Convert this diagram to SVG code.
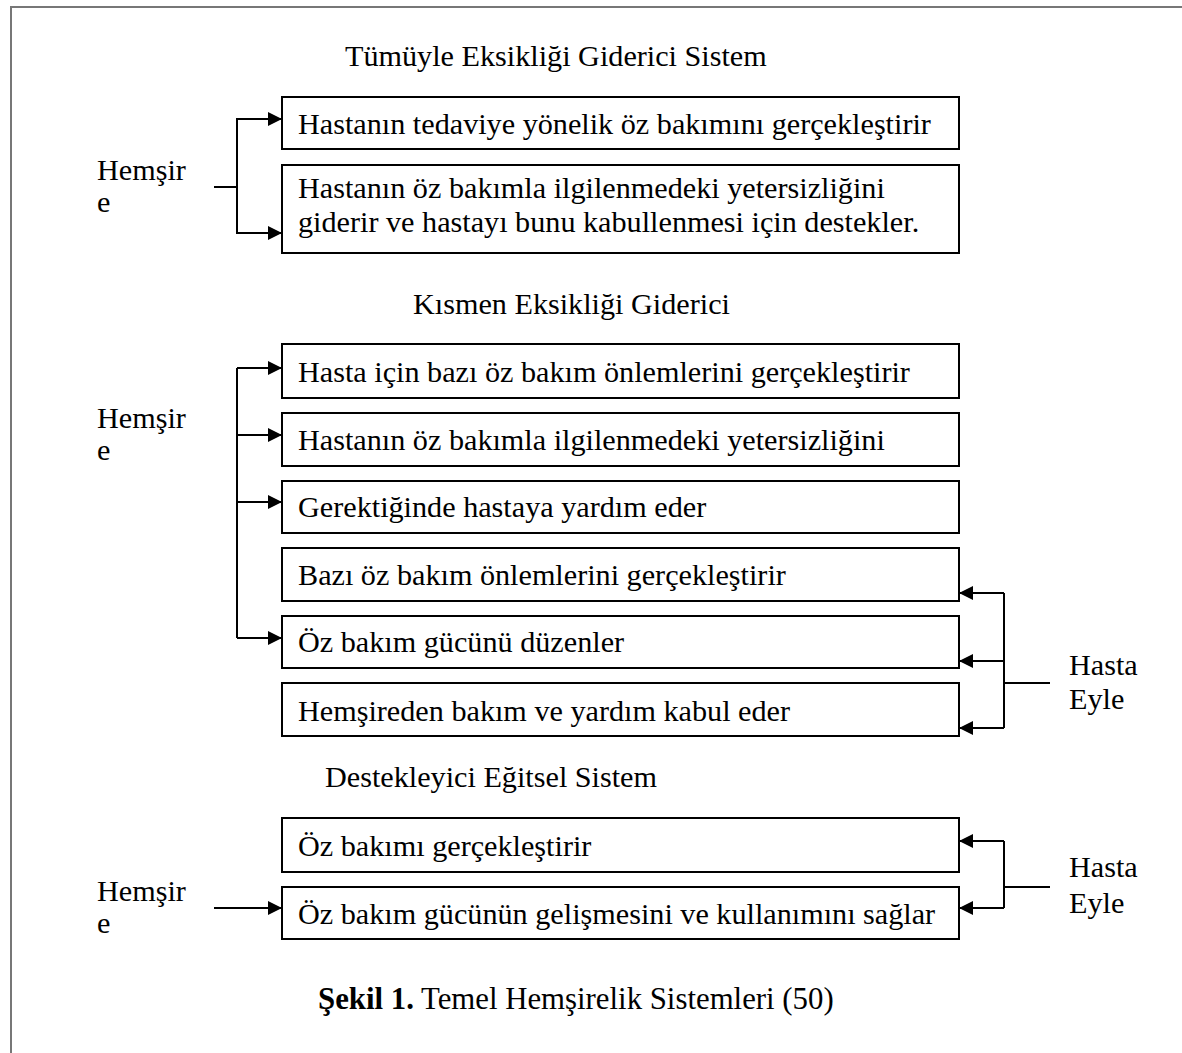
<svg xmlns="http://www.w3.org/2000/svg" width="1182" height="1053" viewBox="0 0 1182 1053">
<style>
text{font-family:"Liberation Serif","Times New Roman",serif;font-size:30.2px;fill:#000}
.box{fill:#fff;stroke:#000;stroke-width:2}
.c{fill:none;stroke:#000;stroke-width:2}
.b{font-weight:bold}
.cap{font-size:30.8px}
</style>
<defs>
<marker id="ah" markerUnits="userSpaceOnUse" markerWidth="14" markerHeight="14" refX="14" refY="7" orient="auto"><path d="M0,0 L14,7 L0,14 z" fill="#000"/></marker>
</defs>
<rect width="1182" height="1053" fill="#fff"/>
<path d="M11,1053 V7 H1182" fill="none" stroke="#777" stroke-width="2"/>
<g id="titles">
<text x="345" y="66">Tümüyle Eksikliği Giderici Sistem</text>
<text x="413" y="314">Kısmen Eksikliği Giderici</text>
<text x="325" y="787">Destekleyici Eğitsel Sistem</text>
</g>
<g id="n-hemsire1"><text x="97" y="180">Hemşir</text><text x="97" y="212">e</text></g>
<g id="n-hemsire2"><text x="97" y="428">Hemşir</text><text x="97" y="460">e</text></g>
<g id="n-hemsire3"><text x="97" y="901">Hemşir</text><text x="97" y="933">e</text></g>
<g id="n-hasta2"><text x="1069" y="675">Hasta</text><text x="1069" y="709">Eyle</text></g>
<g id="n-hasta3"><text x="1069" y="877">Hasta</text><text x="1069" y="913">Eyle</text></g>
<g id="n-s1b1"><rect class="box" x="282" y="97" width="677" height="52"/><text x="298" y="134">Hastanın tedaviye yönelik öz bakımını gerçekleştirir</text></g>
<g id="n-s1b2"><rect class="box" x="282" y="165" width="677" height="88"/><text x="298" y="198">Hastanın öz bakımla ilgilenmedeki yetersizliğini</text><text x="298" y="232">giderir ve hastayı bunu kabullenmesi için destekler.</text></g>
<g id="n-s2b1"><rect class="box" x="282" y="344" width="677" height="54"/><text x="298" y="382">Hasta için bazı öz bakım önlemlerini gerçekleştirir</text></g>
<g id="n-s2b2"><rect class="box" x="282" y="413" width="677" height="53"/><text x="298" y="450">Hastanın öz bakımla ilgilenmedeki yetersizliğini</text></g>
<g id="n-s2b3"><rect class="box" x="282" y="481" width="677" height="52"/><text x="298" y="517">Gerektiğinde hastaya yardım eder</text></g>
<g id="n-s2b4"><rect class="box" x="282" y="548" width="677" height="53"/><text x="298" y="585">Bazı öz bakım önlemlerini gerçekleştirir</text></g>
<g id="n-s2b5"><rect class="box" x="282" y="616" width="677" height="52"/><text x="298" y="652">Öz bakım gücünü düzenler</text></g>
<g id="n-s2b6"><rect class="box" x="282" y="683" width="677" height="53"/><text x="298" y="721">Hemşireden bakım ve yardım kabul eder</text></g>
<g id="n-s3b1"><rect class="box" x="282" y="818" width="677" height="54"/><text x="298" y="856">Öz bakımı gerçekleştirir</text></g>
<g id="n-s3b2"><rect class="box" x="282" y="887" width="677" height="52"/><text x="298" y="924">Öz bakım gücünün gelişmesini ve kullanımını sağlar</text></g>
<g id="caption"><text class="cap" x="318" y="1009"><tspan class="b">Şekil 1.</tspan> Temel Hemşirelik Sistemleri (50)</text></g>
<g id="connectors">
<path class="c" d="M214,187 H237"/>
<path class="c" d="M237,187 V119 H282" marker-end="url(#ah)"/>
<path class="c" d="M237,187 V233 H282" marker-end="url(#ah)"/>
<path class="c" d="M237,368 V638"/>
<path class="c" d="M237,368 H282" marker-end="url(#ah)"/>
<path class="c" d="M237,435 H282" marker-end="url(#ah)"/>
<path class="c" d="M237,502 H282" marker-end="url(#ah)"/>
<path class="c" d="M237,638 H282" marker-end="url(#ah)"/>
<path class="c" d="M1004,593 V728"/>
<path class="c" d="M1004,593 H959" marker-end="url(#ah)"/>
<path class="c" d="M1004,661 H959" marker-end="url(#ah)"/>
<path class="c" d="M1004,728 H959" marker-end="url(#ah)"/>
<path class="c" d="M1050,683 H1004"/>
<path class="c" d="M214,908 H282" marker-end="url(#ah)"/>
<path class="c" d="M1004,841 V908"/>
<path class="c" d="M1004,841 H959" marker-end="url(#ah)"/>
<path class="c" d="M1004,908 H959" marker-end="url(#ah)"/>
<path class="c" d="M1050,887 H1004"/>
</g>
</svg>
